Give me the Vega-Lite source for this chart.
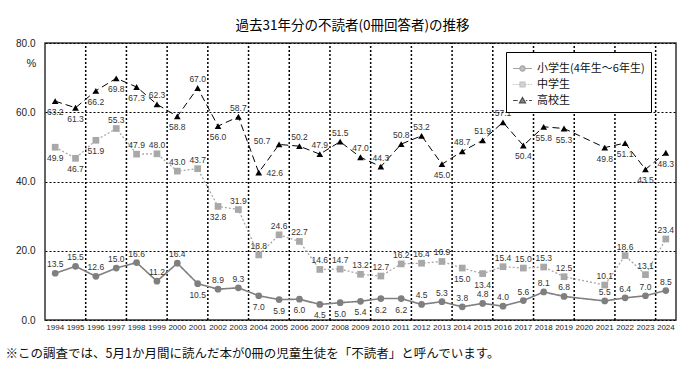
{
  "$schema": "https://vega.github.io/schema/vega-lite/v6.json",
  "width": 631,
  "height": 277,
  "autosize": "none",
  "padding": {"left": 45, "top": 43, "right": 8, "bottom": 58},
  "background": "white",
  "config": {"font": "Liberation Sans", "view": {"stroke": "#333", "strokeWidth": 1.5}},
  "title": {"text": "過去31年分の不読者(0冊回答者)の推移", "font": "Noto Sans CJK JP", "fontSize": 13.5, "fontWeight": "normal", "color": "#000", "anchor": "middle", "dx": -8, "offset": 6},
  "data": {"values": [
    {"year": 1994, "s": "小学生(4年生～6年生)", "v": 13.5}, {"year": 1995, "s": "小学生(4年生～6年生)", "v": 15.5}, {"year": 1996, "s": "小学生(4年生～6年生)", "v": 12.6}, {"year": 1997, "s": "小学生(4年生～6年生)", "v": 15.0}, {"year": 1998, "s": "小学生(4年生～6年生)", "v": 16.6}, {"year": 1999, "s": "小学生(4年生～6年生)", "v": 11.2}, {"year": 2000, "s": "小学生(4年生～6年生)", "v": 16.4}, {"year": 2001, "s": "小学生(4年生～6年生)", "v": 10.5}, {"year": 2002, "s": "小学生(4年生～6年生)", "v": 8.9}, {"year": 2003, "s": "小学生(4年生～6年生)", "v": 9.3}, {"year": 2004, "s": "小学生(4年生～6年生)", "v": 7.0}, {"year": 2005, "s": "小学生(4年生～6年生)", "v": 5.9}, {"year": 2006, "s": "小学生(4年生～6年生)", "v": 6.0}, {"year": 2007, "s": "小学生(4年生～6年生)", "v": 4.5}, {"year": 2008, "s": "小学生(4年生～6年生)", "v": 5.0}, {"year": 2009, "s": "小学生(4年生～6年生)", "v": 5.4}, {"year": 2010, "s": "小学生(4年生～6年生)", "v": 6.2}, {"year": 2011, "s": "小学生(4年生～6年生)", "v": 6.2}, {"year": 2012, "s": "小学生(4年生～6年生)", "v": 4.5}, {"year": 2013, "s": "小学生(4年生～6年生)", "v": 5.3}, {"year": 2014, "s": "小学生(4年生～6年生)", "v": 3.8}, {"year": 2015, "s": "小学生(4年生～6年生)", "v": 4.8}, {"year": 2016, "s": "小学生(4年生～6年生)", "v": 4.0}, {"year": 2017, "s": "小学生(4年生～6年生)", "v": 5.6}, {"year": 2018, "s": "小学生(4年生～6年生)", "v": 8.1}, {"year": 2019, "s": "小学生(4年生～6年生)", "v": 6.8}, {"year": 2021, "s": "小学生(4年生～6年生)", "v": 5.5}, {"year": 2022, "s": "小学生(4年生～6年生)", "v": 6.4}, {"year": 2023, "s": "小学生(4年生～6年生)", "v": 7.0}, {"year": 2024, "s": "小学生(4年生～6年生)", "v": 8.5},
    {"year": 1994, "s": "中学生", "v": 49.9}, {"year": 1995, "s": "中学生", "v": 46.7}, {"year": 1996, "s": "中学生", "v": 51.9}, {"year": 1997, "s": "中学生", "v": 55.3}, {"year": 1998, "s": "中学生", "v": 47.9}, {"year": 1999, "s": "中学生", "v": 48.0}, {"year": 2000, "s": "中学生", "v": 43.0}, {"year": 2001, "s": "中学生", "v": 43.7}, {"year": 2002, "s": "中学生", "v": 32.8}, {"year": 2003, "s": "中学生", "v": 31.9}, {"year": 2004, "s": "中学生", "v": 18.8}, {"year": 2005, "s": "中学生", "v": 24.6}, {"year": 2006, "s": "中学生", "v": 22.7}, {"year": 2007, "s": "中学生", "v": 14.6}, {"year": 2008, "s": "中学生", "v": 14.7}, {"year": 2009, "s": "中学生", "v": 13.2}, {"year": 2010, "s": "中学生", "v": 12.7}, {"year": 2011, "s": "中学生", "v": 16.2}, {"year": 2012, "s": "中学生", "v": 16.4}, {"year": 2013, "s": "中学生", "v": 16.9}, {"year": 2014, "s": "中学生", "v": 15.0}, {"year": 2015, "s": "中学生", "v": 13.4}, {"year": 2016, "s": "中学生", "v": 15.4}, {"year": 2017, "s": "中学生", "v": 15.0}, {"year": 2018, "s": "中学生", "v": 15.3}, {"year": 2019, "s": "中学生", "v": 12.5}, {"year": 2021, "s": "中学生", "v": 10.1}, {"year": 2022, "s": "中学生", "v": 18.6}, {"year": 2023, "s": "中学生", "v": 13.1}, {"year": 2024, "s": "中学生", "v": 23.4},
    {"year": 1994, "s": "高校生", "v": 63.2}, {"year": 1995, "s": "高校生", "v": 61.3}, {"year": 1996, "s": "高校生", "v": 66.2}, {"year": 1997, "s": "高校生", "v": 69.8}, {"year": 1998, "s": "高校生", "v": 67.3}, {"year": 1999, "s": "高校生", "v": 62.3}, {"year": 2000, "s": "高校生", "v": 58.8}, {"year": 2001, "s": "高校生", "v": 67.0}, {"year": 2002, "s": "高校生", "v": 56.0}, {"year": 2003, "s": "高校生", "v": 58.7}, {"year": 2004, "s": "高校生", "v": 42.6}, {"year": 2005, "s": "高校生", "v": 50.7}, {"year": 2006, "s": "高校生", "v": 50.2}, {"year": 2007, "s": "高校生", "v": 47.9}, {"year": 2008, "s": "高校生", "v": 51.5}, {"year": 2009, "s": "高校生", "v": 47.0}, {"year": 2010, "s": "高校生", "v": 44.3}, {"year": 2011, "s": "高校生", "v": 50.8}, {"year": 2012, "s": "高校生", "v": 53.2}, {"year": 2013, "s": "高校生", "v": 45.0}, {"year": 2014, "s": "高校生", "v": 48.7}, {"year": 2015, "s": "高校生", "v": 51.9}, {"year": 2016, "s": "高校生", "v": 57.1}, {"year": 2017, "s": "高校生", "v": 50.4}, {"year": 2018, "s": "高校生", "v": 55.8}, {"year": 2019, "s": "高校生", "v": 55.3}, {"year": 2021, "s": "高校生", "v": 49.8}, {"year": 2022, "s": "高校生", "v": 51.1}, {"year": 2023, "s": "高校生", "v": 43.5}, {"year": 2024, "s": "高校生", "v": 48.3}
  ]},
  "encoding": {
    "x": {"field": "year", "type": "ordinal",
      "scale": {"type": "band", "domain": [1994,1995,1996,1997,1998,1999,2000,2001,2002,2003,2004,2005,2006,2007,2008,2009,2010,2011,2012,2013,2014,2015,2016,2017,2018,2019,2020,2021,2022,2023,2024], "paddingInner": 0, "paddingOuter": 0},
      "axis": {"title": "※この調査では、5月1か月間に読んだ本が0冊の児童生徒を「不読者」と呼んでいます。", "titleFont": "Noto Sans CJK JP", "titleFontSize": 12.5, "titleFontWeight": "normal", "titleColor": "#111", "titleAnchor": "start", "titleAlign": "left", "titleBaseline": "middle", "titleX": -40, "titleY": 33,
        "labelAngle": 0, "labelFontSize": 8, "labelColor": "#222", "labelPadding": 3, "ticks": false, "domain": false, "grid": false}},
    "y": {"field": "v", "type": "quantitative",
      "scale": {"domain": [0, 80], "nice": false},
      "axis": {"title": "%", "titleAngle": 0, "titleFontSize": 11, "titleFontWeight": "normal", "titleColor": "#222", "titleX": -14, "titleY": 20, "titleAlign": "center", "titleBaseline": "middle",
        "values": [0, 20, 40, 60, 80], "format": ".1f", "labelFontSize": 10, "labelColor": "#222", "labelPadding": 10, "ticks": false, "domain": false,
        "grid": true, "gridColor": "#000", "gridDash": [2, 2], "gridWidth": 1}}
  },
  "layer": [
    {"transform": [{"filter": "datum.s=='高校生' && (datum.year==1995 || datum.year==1997 || datum.year==1999 || datum.year==2001 || datum.year==2003 || datum.year==2005 || datum.year==2007 || datum.year==2009 || datum.year==2011 || datum.year==2013 || datum.year==2015 || datum.year==2017 || datum.year==2019 || datum.year==2021 || datum.year==2023)"}],
     "mark": {"type": "rule", "color": "#000", "strokeDash": [2, 2], "strokeWidth": 1.5},
     "encoding": {"x": {"field": "year", "type": "ordinal", "bandPosition": 1}, "y": {"datum": 0}, "y2": {"datum": 80}}},
    {"mark": {"type": "line"},
     "encoding": {
       "color": {"field": "s", "type": "nominal", "scale": {"domain": ["小学生(4年生～6年生)", "中学生", "高校生"], "range": ["#7f7f7f", "#a8a8a8", "#000000"]}, "legend": null},
       "strokeDash": {"field": "s", "type": "nominal", "scale": {"domain": ["小学生(4年生～6年生)", "中学生", "高校生"], "range": [[1, 0], [2, 2], [7, 4]]}, "legend": null},
       "strokeWidth": {"field": "s", "type": "nominal", "scale": {"domain": ["小学生(4年生～6年生)", "中学生", "高校生"], "range": [1.6, 1, 1.4]}, "legend": null}
     }},
    {"mark": {"type": "point", "filled": true, "opacity": 1},
     "encoding": {
       "color": {"field": "s", "type": "nominal", "legend": null},
       "shape": {"field": "s", "type": "nominal", "scale": {"domain": ["小学生(4年生～6年生)", "中学生", "高校生"], "range": ["circle", "square", "triangle-up"]}, "legend": null},
       "size": {"field": "s", "type": "nominal", "scale": {"domain": ["小学生(4年生～6年生)", "中学生", "高校生"], "range": [45, 45, 55]}, "legend": null}
     }},
    {"transform": [{"filter": "!((datum.s=='小学生(4年生～6年生)' && indexof([2001,2004,2005,2006,2007,2008,2009,2010,2011], datum.year) >= 0) || (datum.s=='中学生' && indexof([1994,1995,1996,2002,2014,2015], datum.year) >= 0) || (datum.s=='高校生' && indexof([1994,1995,1996,1997,1998,2000,2002,2004,2005,2013,2017,2018,2019,2021,2022,2023,2024], datum.year) >= 0))"}],
     "mark": {"type": "text", "dy": -9, "fontSize": 8.5, "fill": "#333"},
     "encoding": {"text": {"field": "v", "type": "quantitative", "format": ".1f"}}},
    {"transform": [{"filter": "(datum.s=='小学生(4年生～6年生)' && indexof([2001,2004,2005,2006,2007,2008,2009,2010,2011], datum.year) >= 0) || (datum.s=='中学生' && indexof([1994,1995,1996,2002,2014,2015], datum.year) >= 0) || (datum.s=='高校生' && indexof([1994,1995,1996,1997,1998,2000,2002,2013,2017,2018,2019,2021,2022,2023,2024], datum.year) >= 0)"}],
     "mark": {"type": "text", "dy": 11, "fontSize": 8.5, "fill": "#333"},
     "encoding": {"text": {"field": "v", "type": "quantitative", "format": ".1f"}}},
    {"transform": [{"filter": "datum.s=='高校生' && datum.year==2004"}],
     "mark": {"type": "text", "dx": 16, "dy": 1, "fontSize": 8.5, "fill": "#333"},
     "encoding": {"text": {"field": "v", "type": "quantitative", "format": ".1f"}}},
    {"transform": [{"filter": "datum.s=='高校生' && datum.year==2005"}],
     "mark": {"type": "text", "dx": -17, "dy": -3, "fontSize": 8.5, "fill": "#333"},
     "encoding": {"text": {"field": "v", "type": "quantitative", "format": ".1f"}}},
    {"transform": [{"filter": "false"}],
     "mark": {"type": "point", "filled": true, "strokeWidth": 1.2},
     "encoding": {
       "fill": {"field": "s", "type": "nominal", "scale": {"domain": ["小学生(4年生～6年生)", "中学生", "高校生"], "range": ["#7f7f7f", "#a8a8a8", "#000000"]},
         "legend": {"orient": "none", "legendX": 461, "legendY": 9, "title": null, "strokeColor": "#000", "fillColor": "white", "padding": 6, "cornerRadius": 0, "labelFont": "Noto Sans CJK JP", "labelFontSize": 11, "labelColor": "#111", "symbolSize": 361, "symbolStrokeWidth": 1.2, "rowPadding": 0, "labelOffset": 4}},
       "stroke": {"field": "s", "type": "nominal", "scale": {"domain": ["小学生(4年生～6年生)", "中学生", "高校生"], "range": ["#7f7f7f", "#a8a8a8", "#000000"]},
         "legend": {"orient": "none", "legendX": 461, "legendY": 9, "title": null}},
       "shape": {"field": "s", "type": "nominal", "scale": {"domain": ["小学生(4年生～6年生)", "中学生", "高校生"], "range": [
         "M-1,0H-0.3M0.3,0H1M0.28,0A0.28,0.28 0 1,1 -0.28,0A0.28,0.28 0 1,1 0.28,0Z",
         "M-1,0H-0.85M-0.7,0H-0.55M-0.45,0H-0.3M0.3,0H0.45M0.55,0H0.7M0.85,0H1M-0.26,-0.26H0.26V0.26H-0.26Z",
         "M-1,0H-0.5M0.35,0H0.5M0.7,0H1M0,-0.32L0.32,0.24H-0.32Z"]},
         "legend": {"orient": "none", "legendX": 461, "legendY": 9, "title": null}}
     }}
  ],
  "resolve": {"scale": {"shape": "independent", "fill": "independent", "stroke": "independent"}}
}
